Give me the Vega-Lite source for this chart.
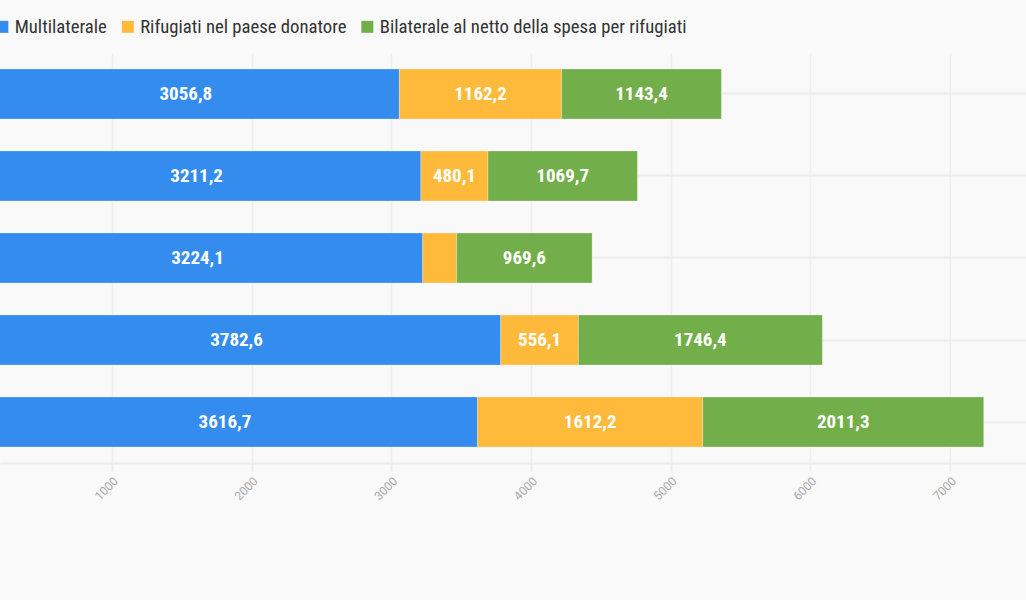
{
  "$schema": "https://vega.github.io/schema/vega-lite/v6.json",
  "autosize": {"type": "none"},
  "width": 1026,
  "height": 410,
  "padding": {"left": 0, "top": 53, "right": 0, "bottom": 137},
  "background": "#f9f9f9",
  "config": {
    "view": {"stroke": null},
    "locale": {"number": {"decimal": ",", "thousands": ".", "grouping": [3], "currency": ["€", ""]}},
    "font": "Roboto Condensed, Liberation Sans Narrow, Roboto, sans-serif"
  },
  "data": {
    "values": [
      {"anno": "A", "serie": "Multilaterale", "ord": 1, "valore": 3056.8},
      {"anno": "A", "serie": "Rifugiati nel paese donatore", "ord": 2, "valore": 1162.2},
      {"anno": "A", "serie": "Bilaterale al netto della spesa per rifugiati", "ord": 3, "valore": 1143.4},
      {"anno": "B", "serie": "Multilaterale", "ord": 1, "valore": 3211.2},
      {"anno": "B", "serie": "Rifugiati nel paese donatore", "ord": 2, "valore": 480.1},
      {"anno": "B", "serie": "Bilaterale al netto della spesa per rifugiati", "ord": 3, "valore": 1069.7},
      {"anno": "C", "serie": "Multilaterale", "ord": 1, "valore": 3224.1},
      {"anno": "C", "serie": "Rifugiati nel paese donatore", "ord": 2, "valore": 243.0},
      {"anno": "C", "serie": "Bilaterale al netto della spesa per rifugiati", "ord": 3, "valore": 969.6},
      {"anno": "D", "serie": "Multilaterale", "ord": 1, "valore": 3782.6},
      {"anno": "D", "serie": "Rifugiati nel paese donatore", "ord": 2, "valore": 556.1},
      {"anno": "D", "serie": "Bilaterale al netto della spesa per rifugiati", "ord": 3, "valore": 1746.4},
      {"anno": "E", "serie": "Multilaterale", "ord": 1, "valore": 3616.7},
      {"anno": "E", "serie": "Rifugiati nel paese donatore", "ord": 2, "valore": 1612.2},
      {"anno": "E", "serie": "Bilaterale al netto della spesa per rifugiati", "ord": 3, "valore": 2011.3}
    ]
  },
  "transform": [
    {"stack": "valore", "groupby": ["anno"], "sort": [{"field": "ord", "order": "ascending"}], "as": ["x0", "x1"]},
    {"calculate": "(datum.x0 + datum.x1) / 2", "as": "xm"}
  ],
  "encoding": {
    "y": {
      "field": "anno", "type": "nominal", "sort": null,
      "scale": {"paddingInner": 0.39, "paddingOuter": 0.195},
      "axis": {"title": null, "labels": false, "ticks": false, "domain": false, "grid": true, "bandPosition": 0.5, "gridColor": "#ececec", "gridWidth": 2}
    }
  },
  "layer": [
    {
      "mark": {"type": "bar", "clip": true, "stroke": "#ffffff", "strokeOpacity": 0.25, "strokeWidth": 1},
      "encoding": {
        "x": {
          "field": "x0", "type": "quantitative",
          "scale": {"domain": [198, 7543], "nice": false, "zero": false},
          "axis": {
            "title": null, "values": [1000, 2000, 3000, 4000, 5000, 6000, 7000], "format": "d",
            "labelAngle": -45, "labelColor": "#aaaaaa", "labelFontSize": 12, "labelFont": "Roboto",
            "domainColor": "#ececec", "domainWidth": 2, "tickColor": "#ececec", "tickWidth": 2, "tickSize": 8,
            "gridColor": "#efefef", "gridWidth": 1.5, "labelPadding": 4
          }
        },
        "x2": {"field": "x1"},
        "color": {
          "field": "serie", "type": "nominal",
          "scale": {
            "domain": ["Multilaterale", "Rifugiati nel paese donatore", "Bilaterale al netto della spesa per rifugiati"],
            "range": ["#348cee", "#ffba3b", "#72af4a"]
          },
          "legend": {
            "title": null, "orient": "none", "direction": "horizontal", "legendX": -7, "legendY": -36,
            "symbolType": "square", "symbolSize": 144, "symbolStrokeWidth": 0, "symbolOpacity": 1,
            "labelFontSize": 18.7, "labelColor": "#333333", "labelOffset": 3, "columnPadding": 11.5, "labelLimit": 400
          }
        }
      }
    },
    {
      "transform": [{"filter": "datum.valore >= 300"}],
      "mark": {"type": "text", "color": "#ffffff", "fontSize": 19, "fontWeight": "bold", "baseline": "middle", "align": "center"},
      "encoding": {
        "x": {"field": "xm", "type": "quantitative"},
        "text": {"field": "valore", "type": "quantitative", "format": ".1f"}
      }
    }
  ]
}
